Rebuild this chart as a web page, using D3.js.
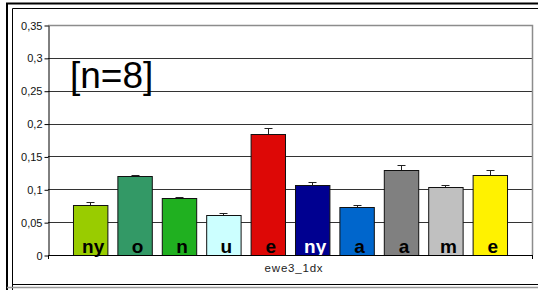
<!DOCTYPE html>
<html>
<head>
<meta charset="utf-8">
<script src="https://cdn.jsdelivr.net/npm/d3@7"></script>
<style>
  body { margin: 0; background: #fff; }
  svg { display: block; font-family: Arial, "Liberation Sans", sans-serif; }
</style>
</head>
<body>
<div id="root"></div>
<script>
// data
const labels = ["ny", "o", "n", "u", "e", "ny", "a", "a", "m", "e"];
const values = [0.0766, 0.1198, 0.0860, 0.0604, 0.1846, 0.1060, 0.0726, 0.1298, 0.1035, 0.1213];
const errors = [0.0036, 0.0022, 0.0030, 0.0040, 0.0094, 0.0056, 0.0040, 0.0076, 0.0035, 0.0077];
const colors = ["#99cc00", "#339966", "#20b020", "#ccffff", "#dd0806", "#000090", "#0066cc", "#808080", "#c0c0c0", "#fff200"];
const labelColors = ["#000", "#000", "#000", "#000", "#000", "#fff", "#000", "#000", "#000", "#000"];
const yTicks = [0, 0.05, 0.1, 0.15, 0.2, 0.25, 0.3, 0.35];
const category = "ewe3_1dx";
const note = "[n=8]";

const W = 538, H = 290;
const plot = {left: 48, right: 532, top: 25, bottom: 255};

const svg = d3.select("#root").append("svg").attr("width", W).attr("height", H);

// outer frame (double line)
svg.append("path")
  .attr("d", `M7,${H + 5} V3.5 H${W + 5}`)
  .attr("fill", "none").attr("stroke", "#000").attr("stroke-width", 2);
svg.append("path")
  .attr("d", `M12.5,${H + 5} V8.5 H${W + 5}`)
  .attr("fill", "none").attr("stroke", "#000").attr("stroke-width", 1);
svg.append("line")
  .attr("x1", 12).attr("x2", W).attr("y1", 284.5).attr("y2", 284.5)
  .attr("stroke", "#000").attr("stroke-width", 1);
svg.append("line")
  .attr("x1", 7).attr("x2", W).attr("y1", 287.5).attr("y2", 287.5)
  .attr("stroke", "#999").attr("stroke-width", 1.5);

const fmt = d3.formatLocale({decimal: ",", thousands: ".", grouping: [3], currency: ["", ""]}).format("~g");

const y = d3.scaleLinear().domain([0, 0.35]).range([plot.bottom, plot.top]);
const x = d3.scaleBand()
  .domain(d3.range(labels.length))
  .range([plot.left, plot.right])
  .paddingInner(0.225)
  .paddingOuter(0.5625);

// gridlines
svg.append("g").selectAll("line")
  .data(yTicks.filter(d => d > 0 && d < 0.35))
  .enter().append("line")
  .attr("x1", plot.left).attr("x2", plot.right)
  .attr("y1", d => Math.round(y(d)) + 0.5).attr("y2", d => Math.round(y(d)) + 0.5)
  .attr("stroke", "#333");

// plot area border (top, right)
svg.append("path")
  .attr("d", `M${plot.left},${plot.top + 0.5} H${plot.right + 0.5} V${plot.bottom}`)
  .attr("fill", "none").attr("stroke", "#8c8c8c").attr("stroke-width", 1.5);

// y axis
const yAxis = svg.append("g")
  .attr("transform", `translate(${plot.left + 0.5},0.5)`)
  .call(d3.axisLeft(y).tickValues(yTicks).tickFormat(fmt).tickSizeInner(4).tickSizeOuter(0).tickPadding(2));
yAxis.select(".domain").attr("stroke", "#000");
yAxis.selectAll(".tick line").attr("stroke", "#000");
yAxis.selectAll(".tick text").attr("font-size", 11).attr("fill", "#111")
  .attr("font-family", "Arial, 'Liberation Sans', sans-serif");

// bars
const bars = svg.append("g").selectAll("g.bar")
  .data(values)
  .enter().append("g").attr("class", "bar");

bars.append("rect")
  .attr("x", (d, i) => x(i) + 0.5)
  .attr("y", d => Math.round(y(d)) + 0.5)
  .attr("width", x.bandwidth())
  .attr("height", d => plot.bottom - Math.round(y(d)))
  .attr("fill", (d, i) => colors[i])
  .attr("stroke", "#111").attr("stroke-width", 1);

// error bars (plus direction only)
bars.append("path")
  .attr("d", (d, i) => {
    const cx = Math.round(x(i) + x.bandwidth() / 2) + 0.5;
    const t = Math.round(y(d + errors[i])) + 0.5;
    return `M${cx},${Math.round(y(d))} V${t} M${cx - 4},${t} H${cx + 4}`;
  })
  .attr("fill", "none").attr("stroke", "#222").attr("stroke-width", 1);

// letters inside the bars
bars.append("text")
  .attr("x", (d, i) => x(i) + x.bandwidth() / 2 + 3)
  .attr("y", 252.5)
  .attr("text-anchor", "middle")
  .attr("font-size", 19)
  .attr("font-weight", "bold")
  .attr("fill", (d, i) => labelColors[i])
  .text((d, i) => labels[i]);

// x axis
svg.append("path")
  .attr("d", `M${plot.left},${plot.bottom + 0.5} H${plot.right + 1} M${plot.left + 0.5},${plot.bottom} V${plot.bottom + 4} M${plot.right + 0.5},${plot.bottom} V${plot.bottom + 4}`)
  .attr("fill", "none").attr("stroke", "#000");

svg.append("text")
  .attr("x", 294).attr("y", 271.5)
  .attr("text-anchor", "middle")
  .attr("font-size", 11.5)
  .attr("letter-spacing", 0.8)
  .attr("fill", "#222")
  .text(category);

// n annotation
svg.append("text")
  .attr("x", 70).attr("y", 88)
  .attr("font-size", 37)
  .attr("fill", "#000")
  .text(note);
</script>
</body>
</html>
